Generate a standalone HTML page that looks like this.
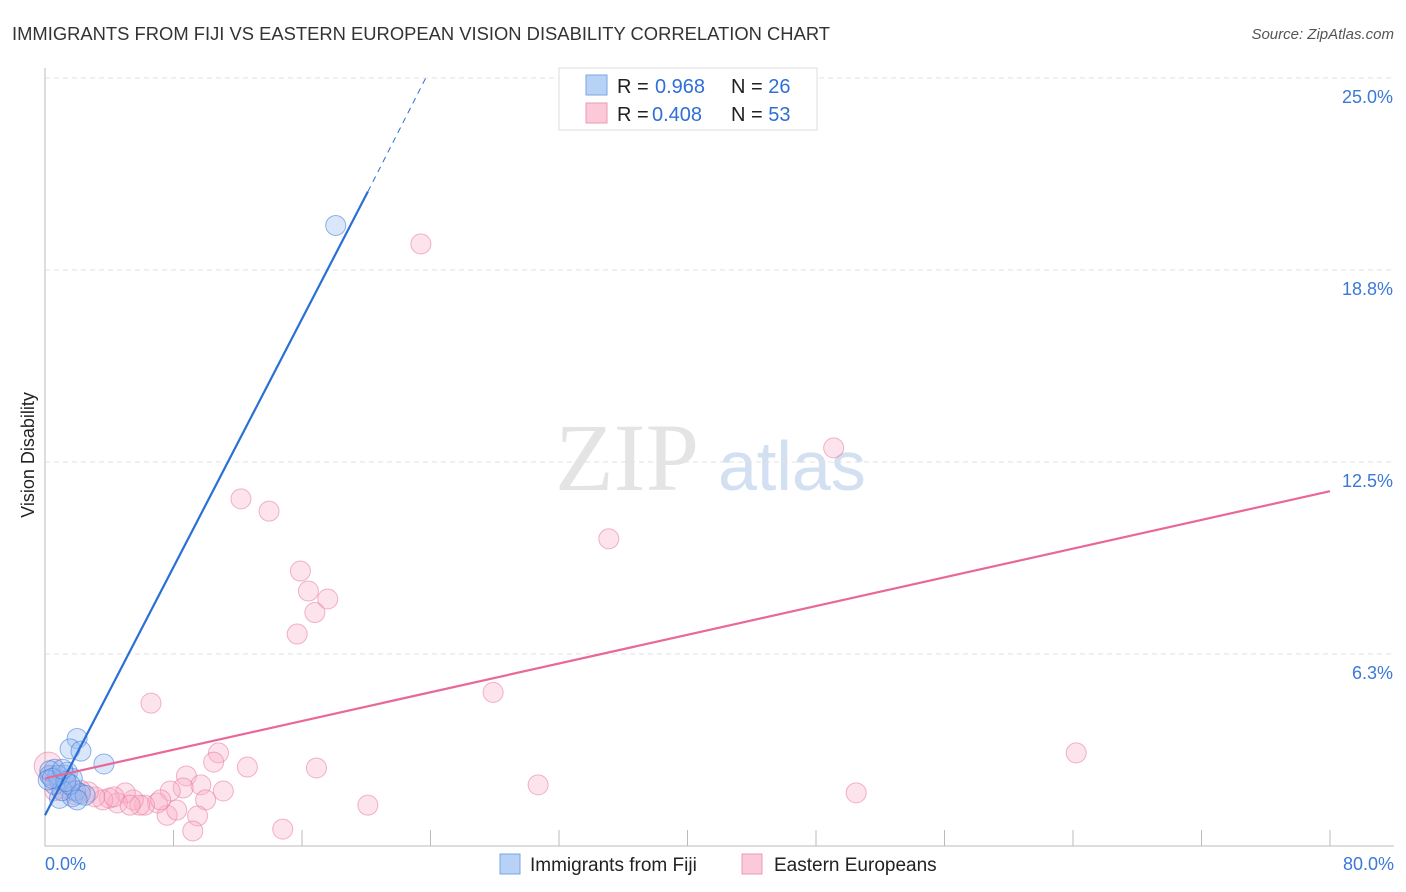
<!DOCTYPE html>
<html><head><meta charset="utf-8"><style>
body{margin:0;background:#fff;font-family:"Liberation Sans",sans-serif;}
svg{display:block}
</style></head><body>
<svg id="chart" width="1406" height="892">
<text x="12" y="40" font-size="18" fill="#333" textLength="818" lengthAdjust="spacingAndGlyphs">IMMIGRANTS FROM FIJI VS EASTERN EUROPEAN VISION DISABILITY CORRELATION CHART</text>
<text x="1394" y="39" font-size="15" fill="#555" font-style="italic" text-anchor="end">Source: ZipAtlas.com</text>
<text transform="translate(34,455) rotate(-90)" font-size="18" fill="#222" text-anchor="middle">Vision Disability</text>
<g><text x="555" y="490" font-size="96" fill="#e4e4e4" font-family="Liberation Serif,serif">ZIP</text><text x="718" y="490" font-size="70" fill="#d2e0f2">atlas</text></g>
<g id="grid"></g><g id="marks"></g>
<g>
<rect x="559" y="68" width="258" height="62" fill="#fff" stroke="#ddd"/>
<rect x="586" y="75" width="21" height="20" fill="#b7d2f5" stroke="#7aa6e6"/>
<rect x="586" y="103" width="21" height="20" fill="#fbc9d7" stroke="#ee9ab4"/>
<text x="617" y="93" font-size="20" fill="#222">R = <tspan fill="#2f6fd6" x="655">0.968</tspan><tspan x="731" fill="#222">N = </tspan><tspan fill="#2f6fd6">26</tspan></text>
<text x="617" y="121" font-size="20" fill="#222">R = <tspan fill="#2f6fd6" x="652">0.408</tspan><tspan x="731" fill="#222">N = </tspan><tspan fill="#2f6fd6">53</tspan></text>
</g>
<g>
<rect x="500" y="854" width="20" height="20" fill="#b7d2f5" stroke="#7aa6e6"/>
<text x="530" y="871" font-size="19" fill="#222">Immigrants from Fiji</text>
<rect x="742" y="854" width="20" height="20" fill="#fbc9d7" stroke="#ee9ab4"/>
<text x="774" y="871" font-size="19" fill="#222">Eastern Europeans</text>
</g>
</svg>
<script>
const yTicks=[6.25,12.5,18.75,25];
const yTickLabels=["6.3%","12.5%","18.8%","25.0%"];
const xTicks=[0,8,16,24,32,40,48,56,64,72,80];
const xLabels=["0.0%","80.0%"];
const fijiX=[18.1,2.0,1.56,2.24,3.67,0.3,0.6,0.9,1.25,1.4,1.7,0.9,1.7,1.9,2.2,2.5,0.6,0.3,1.06,1.56,0.8,0.2,1.3,0.45,2.0,1.1];
const fijiY=[20.2,3.5,3.16,3.09,2.67,2.3,2.5,2.15,2.3,2.4,2.2,1.55,1.6,1.8,1.7,1.65,2.0,2.45,1.8,2.0,2.3,2.15,2.1,2.2,1.5,2.5];
const eastX=[23.4,49.1,12.2,13.95,35.1,15.9,16.4,17.6,16.8,15.7,27.9,6.6,64.2,10.8,10.5,12.6,16.9,8.8,9.7,11.1,8.6,30.7,50.5,20.1,10.0,7.8,9.5,7.6,8.2,9.2,14.8,7.0,6.2,5.5,5.0,4.5,4.0,3.6,3.1,2.7,2.2,5.9,7.2,4.3,5.3,1.25,0.8,0.3,0.6,1.56,1.06,1.9,0.2];
const eastY=[19.6,12.96,11.3,10.9,10.0,8.95,8.3,8.04,7.6,6.9,5.0,4.65,3.03,3.03,2.73,2.57,2.54,2.28,1.99,1.79,1.89,1.99,1.73,1.33,1.5,1.79,0.98,1.0,1.17,0.49,0.55,1.4,1.33,1.5,1.73,1.4,1.56,1.5,1.6,1.76,1.82,1.33,1.5,1.6,1.33,2.0,2.15,2.3,1.8,1.8,1.87,1.66,2.6];
const fijiTrend=[[0,1.0],[20.1,21.3],[23.8,25.1]];
const eastTrend=[[0,2.2],[80,11.55]];
const NS="http://www.w3.org/2000/svg";
const sx=v=>45+v/80*1285, sy=v=>846-v/25*768;
function mk(p,t,a){const e=document.createElementNS(NS,t);for(const k in a)e.setAttribute(k,a[k]);p.appendChild(e);return e;}
const grid=document.getElementById('grid'),marks=document.getElementById('marks');
yTicks.forEach((v,i)=>{
 const l=mk(grid,'line',{x1:45,x2:1394,y1:sy(v),y2:sy(v),stroke:'#e2e2e2','stroke-dasharray':'5,4'});
 
 
 const t=mk(grid,'text',{x:1393,y:sy(v)+25,'font-size':18,fill:'#3b78d8','text-anchor':'end'});t.textContent=yTickLabels[i];
 
 
});
const ax=mk(grid,'path',{d:`M45,68V846H1394`,stroke:'#bbb',fill:'none'});


xTicks.forEach(v=>{if(v===0)return;const l=mk(grid,'line',{x1:sx(v),x2:sx(v),y1:830,y2:846,stroke:'#bbb'});
 
 });
[[0,xLabels[0],'start',45],[80,xLabels[1],'end',1394]].forEach(d=>{const t=mk(grid,'text',{x:d[3],y:870,'font-size':18,fill:'#3b78d8','text-anchor':d[2]});t.textContent=d[1];
 
 });
eastX.forEach((x,i)=>{const c=mk(marks,'circle',{cx:sx(x),cy:sy(eastY[i]),r:i===eastX.length-1?14:10,fill:'rgba(248,175,198,0.35)',stroke:'rgba(232,120,160,0.55)'});
 
 });
fijiX.forEach((x,i)=>{const c=mk(marks,'circle',{cx:sx(x),cy:sy(fijiY[i]),r:10,fill:'rgba(150,185,240,0.35)',stroke:'rgba(60,120,215,0.55)'});
 
 });
let l=mk(marks,'line',{x1:sx(fijiTrend[0][0]),y1:sy(fijiTrend[0][1]),x2:sx(fijiTrend[1][0]),y2:sy(fijiTrend[1][1]),stroke:'#2a6fd6','stroke-width':2.2});


l=mk(marks,'line',{x1:sx(fijiTrend[1][0]),y1:sy(fijiTrend[1][1]),x2:sx(fijiTrend[2][0]),y2:sy(fijiTrend[2][1]),stroke:'#2a6fd6','stroke-width':1,'stroke-dasharray':'6,5'});


l=mk(marks,'line',{x1:sx(eastTrend[0][0]),y1:sy(eastTrend[0][1]),x2:sx(eastTrend[1][0]),y2:sy(eastTrend[1][1]),stroke:'#e8689a','stroke-width':2.2});


</script>
</body></html>
